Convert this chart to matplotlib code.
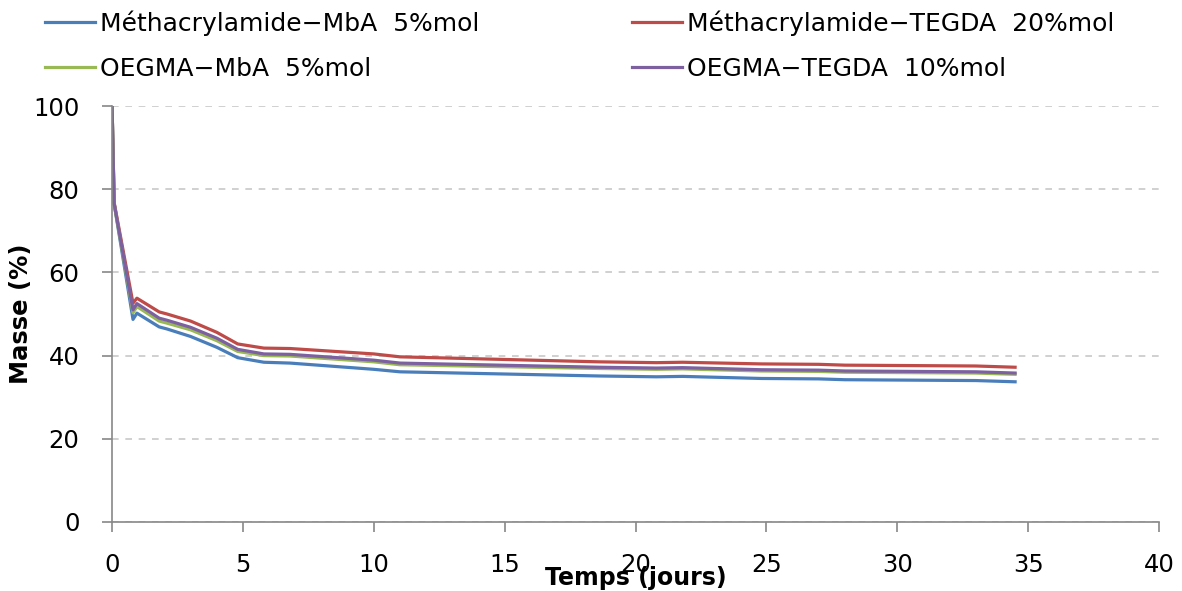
import matplotlib
matplotlib.use("Agg")
import matplotlib.pyplot as plt

# temps (jours) et masse (%)
temps = [0, 0.08, 0.8, 0.95, 1.8, 2.1, 3, 4, 4.8, 5.8, 6.8, 10, 11,
         18.6, 20.8, 21.8, 24.8, 27, 28, 33, 34.5]
meth_mba = [100, 76.5, 48.7, 50.2, 46.9, 46.4, 44.6, 42.0, 39.5, 38.4, 38.2, 36.7, 36.1,
            35.1, 34.9, 35.0, 34.5, 34.4, 34.2, 34.0, 33.7]
meth_tegda = [100, 76.8, 52.6, 53.8, 50.5, 50.0, 48.3, 45.6, 42.8, 41.8, 41.7, 40.4, 39.7,
              38.5, 38.3, 38.4, 38.0, 37.9, 37.7, 37.5, 37.2]
oegma_mba = [100, 76.5, 50.3, 51.8, 48.3, 47.8, 46.2, 43.6, 41.0, 40.0, 39.9, 38.5, 37.8,
             36.9, 36.7, 36.8, 36.3, 36.2, 36.0, 35.8, 35.5]
oegma_tegda = [100, 76.6, 51.0, 52.5, 49.0, 48.5, 46.8, 44.2, 41.5, 40.4, 40.3, 38.9, 38.2,
               37.2, 37.0, 37.1, 36.6, 36.5, 36.3, 36.1, 35.8]

labels = ["Méthacrylamide\u2212MbA  5%mol", "Méthacrylamide\u2212TEGDA  20%mol",
          "OEGMA\u2212MbA  5%mol", "OEGMA\u2212TEGDA  10%mol"]
couleurs = ["#4A7EBB", "#BE4B48", "#98B954", "#7D60A0"]

plt.rcParams['font.family'] = ['DejaVu Sans']

fig = plt.figure(figsize=(11.82, 5.91), dpi=100)
ax = fig.add_axes([0.0948, 0.1168, 0.8858, 0.7038])

lignes = []
for y, lab, c in zip([meth_mba, meth_tegda, oegma_mba, oegma_tegda], labels, couleurs):
    l, = ax.plot(temps, y, color=c, lw=2.3, label=lab)
    lignes.append(l)

ax.set_xlim(0, 40)
ax.set_ylim(0, 100)
ax.set_xticks(range(0, 41, 5))
ax.set_yticks(range(0, 101, 20))
ax.yaxis.grid(True, ls=(0, (4, 4)), color="#c8c8c8", lw=1.2)
ax.set_axisbelow(True)
for s in ["top", "right"]:
    ax.spines[s].set_visible(False)
for s in ["left", "bottom"]:
    ax.spines[s].set_color("#888888")
    ax.spines[s].set_linewidth(1.2)
ax.tick_params(axis="both", direction="out", length=7, width=1.2, color="#888888",
               labelsize=17.5)
ax.tick_params(axis="y", pad=16.5)
ax.tick_params(axis="x", pad=15)

ax.set_xlabel("Temps (jours)", fontsize=17, fontweight="bold")
ax.xaxis.set_label_coords(0.5, -0.105)
ax.set_ylabel("Masse (%)", fontsize=17.5, fontweight="bold")
ax.yaxis.set_label_coords(-0.0754, 0.5)

# ordre Excel : ligne par ligne
ordre = [0, 2, 1, 3]
fig.legend([lignes[i] for i in ordre], [labels[i] for i in ordre], ncols=2,
           loc="upper left", bbox_to_anchor=(0.0296, 1.0), frameon=False,
           fontsize=18, handlelength=2.0, handletextpad=0.2, labelspacing=0.86,
           columnspacing=6.1, borderaxespad=0)

fig.savefig("out.png", dpi=100)
